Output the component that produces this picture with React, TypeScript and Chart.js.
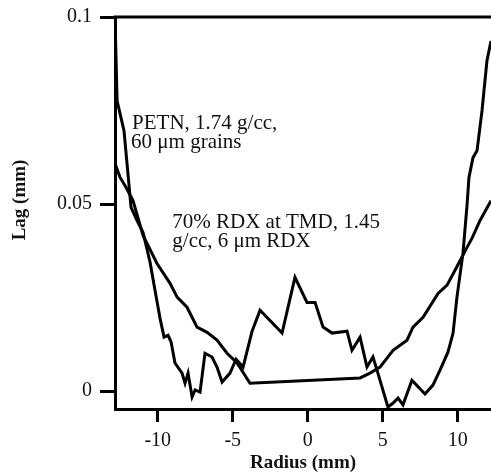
import React, { useEffect, useRef } from "react";
import { Chart, registerables } from "chart.js";

Chart.register(...registerables);

// ---- data ----
const petnX = [-12.85, -12.71, -12.25, -11.78, -11.38, -10.98, -10.51, -10.18, -9.85, -9.58, -9.31, -9.11, -8.85, -8.38, -8.18, -7.98, -7.71, -7.51, -7.18, -6.85, -6.38, -6.05, -5.71, -5.18, -4.78, -4.31, -3.71, -3.18, -1.71, -0.85, -0.05, 0.49, 1.02, 1.62, 2.62, 2.95, 3.49, 3.95, 4.35, 4.62, 5.35, 5.69, 6.02, 6.35, 6.95, 7.82, 8.35, 8.82, 9.35, 9.69, 9.95, 10.35, 10.62, 10.75, 11.02, 11.29, 11.62, 11.95, 12.22];
const petnY = [0.1, 0.0776, 0.0696, 0.0491, 0.0456, 0.0424, 0.0344, 0.0269, 0.0195, 0.0144, 0.0149, 0.0131, 0.0075, 0.0048, 0.0021, 0.0048, -0.0016, 0.0003, -0.0003, 0.0101, 0.0091, 0.0064, 0.0024, 0.0048, 0.0085, 0.0064, 0.016, 0.0216, 0.0155, 0.0304, 0.0237, 0.0237, 0.0171, 0.0155, 0.016, 0.0109, 0.0144, 0.0064, 0.0091, 0.0056, -0.0043, -0.0032, -0.0019, -0.0037, 0.0029, -0.0008, 0.0016, 0.0056, 0.0104, 0.0155, 0.0251, 0.0368, 0.0496, 0.0571, 0.0624, 0.0643, 0.0749, 0.0883, 0.0936];

const rdxX = [-12.85, -12.51, -12.11, -11.65, -10.98, -10.05, -9.18, -8.71, -8.05, -7.38, -6.71, -6.05, -5.38, -4.71, -3.85, 3.49, 4.15, 4.82, 5.69, 6.62, 7.02, 7.69, 8.69, 9.29, 9.82, 10.62, 10.95, 11.49, 12.22];
const rdxY = [0.0608, 0.0571, 0.0544, 0.0509, 0.0416, 0.0341, 0.0288, 0.0251, 0.0224, 0.0171, 0.0157, 0.0136, 0.0101, 0.0075, 0.0021, 0.0035, 0.0048, 0.0064, 0.0109, 0.0136, 0.0171, 0.0197, 0.0261, 0.0283, 0.0323, 0.0384, 0.0408, 0.0456, 0.0509];

const xTicks = [-10, -5, 0, 5, 10];
const yTicks = [0, 0.05, 0.1];
const yTickLabels = ["0", "0.05", "0.1"];
const xTitle = "Radius (mm)";
const yTitle = "Lag (mm)";
const petnLabel = ["PETN, 1.74 g/cc,", "60 \u03bcm grains"];
const rdxLabel = ["70% RDX at TMD, 1.45", "g/cc, 6 \u03bcm RDX"];

const SERIF = "'Liberation Serif', 'Times New Roman', serif";

export default function App() {
  const ref = useRef<HTMLCanvasElement | null>(null);

  useEffect(() => {
    document.body.style.margin = "0";
    const canvas = ref.current;
    if (!canvas) return;

    const toPts = (xs: number[], ys: number[]) => xs.map((x, i) => ({ x, y: ys[i] }));

    const frame = {
      id: "frameTop",
      afterDraw(chart: any) {
        const { ctx, chartArea } = chart;
        ctx.save();
        ctx.strokeStyle = "#000";
        ctx.lineWidth = 3;
        ctx.beginPath();
        ctx.moveTo(chartArea.left - 1.5, chartArea.top);
        ctx.lineTo(chartArea.right, chartArea.top);
        ctx.stroke();
        // y axis title
        ctx.fillStyle = "#111";
        ctx.font = `bold 19px ${SERIF}`;
        ctx.textAlign = "center";
        ctx.textBaseline = "middle";
        ctx.translate(20, 200);
        ctx.rotate(-Math.PI / 2);
        ctx.fillText(yTitle, 0, 0);
        ctx.restore();
      },
    };

    const notes = {
      id: "notes",
      afterDraw(chart: any) {
        const { ctx } = chart;
        const xs = chart.scales.x;
        const ys = chart.scales.y;
        ctx.save();
        ctx.fillStyle = "#111";
        ctx.font = `21px ${SERIF}`;
        ctx.textAlign = "left";
        ctx.textBaseline = "alphabetic";
        const px1 = xs.getPixelForValue(-11.71);
        ctx.fillText(petnLabel[0], px1, ys.getPixelForValue(0.0701));
        ctx.fillText(petnLabel[1], px1 - 1, ys.getPixelForValue(0.0651));
        const px2 = xs.getPixelForValue(-9.03);
        ctx.fillText(rdxLabel[0], px2, ys.getPixelForValue(0.0437));
        ctx.fillText(rdxLabel[1], px2, ys.getPixelForValue(0.0384));
        ctx.restore();
      },
    };

    const chart = new Chart(canvas, {
      type: "line",
      data: {
        datasets: [
          {
            label: "PETN",
            data: toPts(petnX, petnY),
            borderColor: "#000",
            borderWidth: 3,
            pointRadius: 0,
            tension: 0,
            fill: false,
          },
          {
            label: "RDX",
            data: toPts(rdxX, rdxY),
            borderColor: "#000",
            borderWidth: 3,
            pointRadius: 0,
            tension: 0,
            fill: false,
          },
        ],
      },
      options: {
        responsive: false,
        animation: false,
        layout: { padding: { top: 16, left: 0, right: 0, bottom: 0 } },
        plugins: { legend: { display: false }, tooltip: { enabled: false } },
        scales: {
          x: {
            type: "linear",
            min: -12.85,
            max: 12.22,
            afterBuildTicks: (s: any) => {
              s.ticks = xTicks.map((v) => ({ value: v }));
            },
            afterFit: (s: any) => {
              s.height = 65;
            },
            grid: {
              display: true,
              drawOnChartArea: false,
              drawTicks: true,
              tickLength: 13,
              tickWidth: 3,
              tickColor: "#000",
            },
            border: { display: true, width: 3, color: "#000" },
            ticks: {
              color: "#111",
              font: { family: SERIF, size: 20 },
              padding: 7,
              maxRotation: 0,
              autoSkip: false,
              callback: (v: any) => String(v),
            },
            title: {
              display: true,
              text: xTitle,
              color: "#111",
              font: { family: SERIF, size: 19, weight: "bold" },
              padding: { top: 0, bottom: 0 },
            },
          },
          y: {
            type: "linear",
            min: -0.0048,
            max: 0.1,
            afterBuildTicks: (s: any) => {
              s.ticks = yTicks.map((v) => ({ value: v }));
            },
            afterFit: (s: any) => {
              s.width = 115;
            },
            grid: {
              display: true,
              drawOnChartArea: false,
              drawTicks: true,
              tickLength: 15,
              tickWidth: 3,
              tickColor: "#000",
            },
            border: { display: true, width: 3, color: "#000" },
            ticks: {
              color: "#111",
              font: { family: SERIF, size: 20, lineHeight: 0.9 },
              padding: 8,
              autoSkip: false,
              callback: (v: any) => {
                const i = yTicks.indexOf(v);
                return i >= 0 ? yTickLabels[i] : "";
              },
            },
            title: { display: false },
          },
        },
      },
      plugins: [frame, notes],
    });

    return () => chart.destroy();
  }, []);

  return <canvas ref={ref} width={491} height={474} style={{ display: "block" }} />;
}
